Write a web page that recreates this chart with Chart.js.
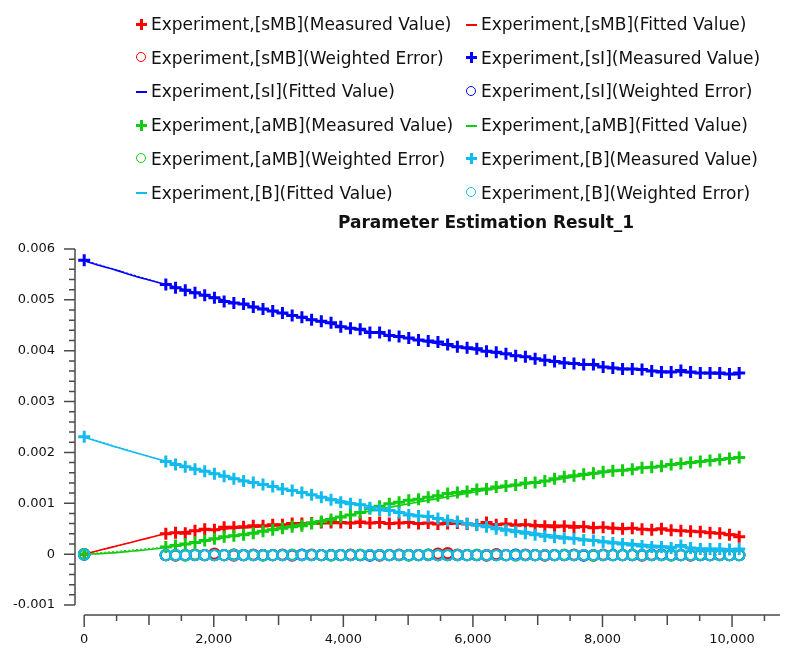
<!DOCTYPE html>
<html>
<head>
<meta charset="utf-8">
<script src="https://cdn.jsdelivr.net/npm/chart.js@4.4.1/dist/chart.umd.min.js"></script>
<style>
  html, body { margin: 0; padding: 0; background: #fff; }
  #wrap { position: relative; width: 789px; height: 648px; overflow: hidden; font-family: "DejaVu Sans", sans-serif; color: #111; }
  #chart { position: absolute; left: 0; top: 0; }
  .item { position: absolute; height: 24px; display: flex; align-items: center; font-size: 17px; white-space: nowrap; }
  .mk { position: relative; width: 11px; height: 11px; margin-right: 4px; flex: none; }
  .mk.cross::before, .mk.cross::after, .mk.line::before { content: ""; position: absolute; background: currentColor; }
  .mk.cross::before { left: 0; top: 4px; width: 11px; height: 3px; }
  .mk.cross::after { left: 4px; top: 0; width: 3px; height: 11px; }
  .mk.line::before { left: 0; top: 5px; width: 11px; height: 2px; }
  .mk.circle::before { content: ""; position: absolute; left: 0; top: 0; width: 8px; height: 8px; border: 1.5px solid currentColor; border-radius: 50%; }
  #title { position: absolute; top: 212px; left: 486px; transform: translateX(-50%); font-size: 17px; font-weight: bold; white-space: nowrap; }
</style>
</head>
<body>
<div id="wrap">
  <canvas id="chart" width="789" height="648"></canvas>
  <div id="legend"></div>
  <div id="title">Parameter Estimation Result_1</div>
</div>
<script>
// sample times (s)
const times = [
  0,
  1260, 1410, 1560, 1710, 1860, 2010, 2160, 2310, 2460, 2610,
  2760, 2910, 3060, 3210, 3360, 3510, 3660, 3810, 3960, 4110,
  4260, 4410, 4560, 4710, 4860, 5010, 5160, 5310, 5460, 5610,
  5760, 5910, 6060, 6210, 6360, 6510, 6660, 6810, 6960, 7110,
  7260, 7410, 7560, 7710, 7860, 8010, 8160, 8310, 8460, 8610,
  8760, 8910, 9060, 9210, 9360, 9510, 9660, 9810, 9960, 10110
];
const fitTimes = [0, 250, 500, 750, 1000, 1260, 2010, 2760, 3510, 4260, 5010, 5760, 6510, 7260, 8010, 8760, 9510, 10110];

const sMBMeasured = [
  0.00000,
  0.00040, 0.00042, 0.00041, 0.00046, 0.00049, 0.00048, 0.00053, 0.00053, 0.00054, 0.00056,
  0.00056, 0.00058, 0.00058, 0.00060, 0.00060, 0.00061, 0.00062, 0.00062, 0.00062, 0.00061,
  0.00063, 0.00061, 0.00062, 0.00060, 0.00061, 0.00062, 0.00060, 0.00061, 0.00059, 0.00060,
  0.00061, 0.00059, 0.00058, 0.00062, 0.00058, 0.00059, 0.00057, 0.00058, 0.00056, 0.00055,
  0.00054, 0.00055, 0.00053, 0.00054, 0.00052, 0.00053, 0.00051, 0.00050, 0.00051, 0.00049,
  0.00048, 0.00050, 0.00047, 0.00046, 0.00045, 0.00044, 0.00042, 0.00041, 0.00038, 0.00034
];
const sMBFitted = [0, 0.00008, 0.00016, 0.00024, 0.00032, 0.00040, 0.00048, 0.00054, 0.00059, 0.00061, 0.00061, 0.00060, 0.00059, 0.00057, 0.00053, 0.00049, 0.00044, 0.00038];
// weighted errors, x1e-5
const sMBError = [
  0,
  -2, -3, -2, -1, -2, 1, -2, -3, -2, -1,
  -2, -2, -1, -3, -2, -1, -2, -2, -2, -1,
  -2, -2, -3, -2, -1, -2, -2, -2, 1, 2,
  -1, -2, -2, -3, 0, -2, -2, -1, -2, -3,
  -2, -2, -1, -2, -3, -1, -2, -2, -2, -3,
  -1, -2, -2, -2, -3, -2, -2, -1, -2, -2
];

const sIMeasured = [
  0.00578,
  0.00530, 0.00524, 0.00519, 0.00514, 0.00509, 0.00504, 0.00497, 0.00494, 0.00492, 0.00486,
  0.00482, 0.00478, 0.00474, 0.00469, 0.00466, 0.00461, 0.00458, 0.00455, 0.00447, 0.00444,
  0.00442, 0.00436, 0.00436, 0.00430, 0.00428, 0.00425, 0.00421, 0.00419, 0.00417, 0.00412,
  0.00408, 0.00406, 0.00404, 0.00399, 0.00397, 0.00394, 0.00390, 0.00388, 0.00384, 0.00381,
  0.00379, 0.00376, 0.00375, 0.00373, 0.00373, 0.00368, 0.00366, 0.00364, 0.00364, 0.00363,
  0.00360, 0.00358, 0.00358, 0.00361, 0.00358, 0.00356, 0.00356, 0.00356, 0.00354, 0.00356
];
const sIFitted = [0.00577, 0.00567, 0.00558, 0.00548, 0.00539, 0.00530, 0.00504, 0.00482, 0.00461, 0.00441, 0.00424, 0.00407, 0.00393, 0.00380, 0.00369, 0.00361, 0.00356, 0.00353];
const sIError = [
  -1,
  -2, -2, -2, -2, -2, -2, -2, -1, -2, -2,
  -2, -2, -2, -2, -1, -2, -2, -2, -2, -2,
  -2, -3, -2, -2, -2, -2, -2, -1, -2, -2,
  -2, -2, -2, -2, -2, -2, -1, -2, -2, -2,
  -2, -2, -2, -3, -2, -2, -2, -2, -2, -2,
  -2, -1, -2, -2, -2, -2, -2, -2, -2, -2
];

const aMBMeasured = [
  0.00000,
  0.00014, 0.00017, 0.00020, 0.00023, 0.00027, 0.00030, 0.00034, 0.00036, 0.00038, 0.00041,
  0.00045, 0.00048, 0.00051, 0.00054, 0.00056, 0.00060, 0.00064, 0.00068, 0.00073, 0.00077,
  0.00082, 0.00089, 0.00094, 0.00099, 0.00102, 0.00106, 0.00108, 0.00112, 0.00115, 0.00119,
  0.00121, 0.00123, 0.00127, 0.00128, 0.00132, 0.00134, 0.00136, 0.00140, 0.00141, 0.00144,
  0.00148, 0.00152, 0.00154, 0.00157, 0.00159, 0.00162, 0.00164, 0.00165, 0.00167, 0.00170,
  0.00171, 0.00173, 0.00176, 0.00178, 0.00180, 0.00182, 0.00184, 0.00186, 0.00188, 0.00190
];
const aMBFitted = [0, 0.00001, 0.00003, 0.00006, 0.00009, 0.00013, 0.00029, 0.00046, 0.00063, 0.00081, 0.00099, 0.00116, 0.00132, 0.00146, 0.00160, 0.00171, 0.00181, 0.00189];
const aMBError = [
  0,
  -2, -2, -3, -1, -2, -2, -2, -1, -2, -2,
  -3, -2, -2, -1, -2, -2, -2, -3, -2, -2,
  -1, -2, -2, -2, -2, -3, -2, -1, -2, -2,
  -2, -2, -1, -2, -2, -2, -3, -2, -2, -2,
  -2, -1, -2, -2, -3, -2, -2, -2, -1, -2,
  -2, -2, -3, -2, -2, -1, -2, -2, -2, -2
];

const BMeasured = [
  0.00231,
  0.00182, 0.00176, 0.00172, 0.00167, 0.00163, 0.00158, 0.00153, 0.00148, 0.00144, 0.00141,
  0.00137, 0.00133, 0.00128, 0.00125, 0.00121, 0.00117, 0.00112, 0.00107, 0.00102, 0.00099,
  0.00097, 0.00091, 0.00087, 0.00086, 0.00082, 0.00077, 0.00075, 0.00074, 0.00070, 0.00066,
  0.00064, 0.00060, 0.00057, 0.00054, 0.00050, 0.00047, 0.00044, 0.00041, 0.00038, 0.00035,
  0.00033, 0.00031, 0.00030, 0.00028, 0.00027, 0.00024, 0.00022, 0.00020, 0.00018, 0.00016,
  0.00014, 0.00014, 0.00012, 0.00017, 0.00012, 0.00010, 0.00010, 0.00010, 0.00009, 0.00010
];
const BFitted = [0.00230, 0.00220, 0.00210, 0.00201, 0.00192, 0.00183, 0.00159, 0.00137, 0.00117, 0.00098, 0.00080, 0.00064, 0.00050, 0.00037, 0.00026, 0.00018, 0.00012, 0.00009];
const BError = [
  -1,
  -2, -2, -2, -2, -2, -2, -2, -2, -2, -2,
  -2, -2, -2, -2, -2, -2, -2, -2, -2, -2,
  -2, -2, -2, -2, -2, -2, -2, -2, -2, -2,
  -2, -2, -2, -2, -2, -2, -2, -2, -2, -2,
  -2, -2, -2, -2, -2, -2, -2, -2, -2, -2,
  -2, -2, -2, -2, -2, -2, -2, -2, -2, -2
];

const species = ["sMB", "sI", "aMB", "B"];
const colors = ["#ff0000", "#0000ff", "#11cc11", "#11bbee"];
const measured = [sMBMeasured, sIMeasured, aMBMeasured, BMeasured];
const fitted = [sMBFitted, sIFitted, aMBFitted, BFitted];
const errors = [sMBError, sIError, aMBError, BError];

const yTicks = [-0.001, 0, 0.001, 0.002, 0.003, 0.004, 0.005, 0.006];
const xTicks = [0, 2000, 4000, 6000, 8000, 10000];

const datasets = [];
species.forEach((sp, i) => {
  const c = colors[i];
  datasets.push({
    label: "Experiment,[" + sp + "](Measured Value)", kind: "cross",
    data: times.map((t, k) => ({ x: t, y: measured[i][k] })),
    showLine: true, borderColor: c, backgroundColor: c, borderWidth: 1, borderDash: [2, 2],
    pointStyle: "cross", pointRadius: 6, pointBorderWidth: 3, pointBorderColor: c
  });
  datasets.push({
    label: "Experiment,[" + sp + "](Fitted Value)", kind: "line",
    data: fitTimes.map((t, k) => ({ x: t, y: fitted[i][k] })),
    showLine: true, borderColor: c, backgroundColor: c, borderWidth: 1.6,
    cubicInterpolationMode: "monotone", pointRadius: 0
  });
  datasets.push({
    label: "Experiment,[" + sp + "](Weighted Error)", kind: "circle",
    data: times.map((t, k) => ({ x: t, y: errors[i][k] * 1e-5 })),
    showLine: false, borderColor: c, backgroundColor: "rgba(0,0,0,0)",
    pointStyle: "circle", pointRadius: 5.2, pointBorderWidth: 2, pointBorderColor: c
  });
});
// later series are painted on top
datasets.forEach((d, i) => { d.order = datasets.length - i; d.clip = false; });

const frame = {
  id: "frame",
  beforeDatasetsDraw(chart) {
    const { ctx, chartArea: a, scales: { x, y } } = chart;
    ctx.save();
    ctx.strokeStyle = "#4a4a4a";
    ctx.lineWidth = 1.5;
    ctx.beginPath();
    const lx = a.left;
    ctx.moveTo(lx, y.getPixelForValue(yTicks[yTicks.length - 1]));
    ctx.lineTo(lx, y.getPixelForValue(yTicks[0]));
    for (let k = 0; k <= 35; k++) {
      const py = y.getPixelForValue(yTicks[0] + k * 0.0002);
      const len = k % 5 === 0 ? 11 : 6;
      ctx.moveTo(lx - len, py);
      ctx.lineTo(lx, py);
    }
    const by = a.bottom;
    ctx.moveTo(x.getPixelForValue(0), by);
    ctx.lineTo(a.right, by);
    for (let v = 0; v <= x.max; v += 500) {
      const px = x.getPixelForValue(v);
      const len = v % 2000 === 0 ? 12 : v % 1000 === 0 ? 10 : 6;
      ctx.moveTo(px, by);
      ctx.lineTo(px, by + len);
    }
    ctx.stroke();
    ctx.restore();
  }
};

Chart.defaults.font.family = "DejaVu Sans";
Chart.defaults.color = "#111";

const chart = new Chart(document.getElementById("chart"), {
  type: "scatter",
  data: { datasets },
  options: {
    responsive: false,
    animation: false,
    devicePixelRatio: 1,
    layout: { padding: { top: 249, left: 0, right: 0, bottom: 0 } },
    plugins: { legend: { display: false }, tooltip: { enabled: false }, title: { display: false } },
    scales: {
      x: {
        type: "linear", min: -142, max: 10740,
        afterBuildTicks: s => { s.ticks = xTicks.map(v => ({ value: v })); },
        afterFit: s => { s.height = 33; },
        grid: { display: false, drawTicks: false }, border: { display: false },
        ticks: { padding: 17, font: { size: 13 }, maxRotation: 0, callback: v => v.toLocaleString("en-US") }
      },
      y: {
        type: "linear", min: -0.001197, max: 0.006,
        afterBuildTicks: s => { s.ticks = yTicks.map(v => ({ value: v })); },
        afterFit: s => { s.width = 75; },
        grid: { display: false, drawTicks: false }, border: { display: false },
        ticks: { padding: 20, font: { size: 13 }, callback: v => v === 0 ? "0" : v.toFixed(3) }
      }
    }
  },
  plugins: [frame]
});

// two-column legend built from the datasets
const legend = document.getElementById("legend");
const colLeft = [136, 466];
datasets.forEach((d, i) => {
  const row = Math.floor(i / 2), col = i % 2;
  const el = document.createElement("div");
  el.className = "item";
  el.style.left = colLeft[col] + "px";
  el.style.top = (12 + row * 33.7) + "px";
  const mk = document.createElement("span");
  mk.className = "mk " + d.kind;
  mk.style.color = d.borderColor;
  el.appendChild(mk);
  el.appendChild(document.createTextNode(d.label));
  legend.appendChild(el);
});
</script>
</body>
</html>
